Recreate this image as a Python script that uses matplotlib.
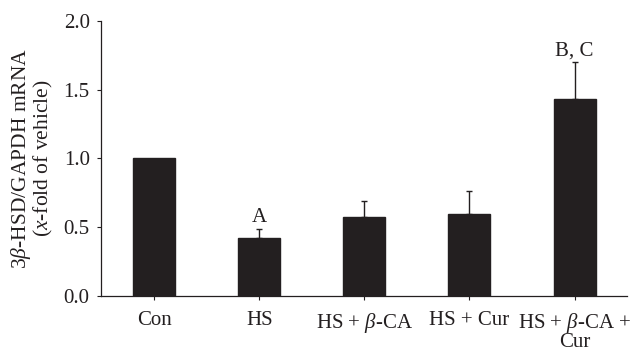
import matplotlib
matplotlib.use("Agg")
import matplotlib.pyplot as plt

plt.rcParams["font.family"] = ["Liberation Serif", "DejaVu Serif"]
plt.rcParams["mathtext.fontset"] = "custom"
plt.rcParams["mathtext.rm"] = "Liberation Serif"
plt.rcParams["mathtext.it"] = "Liberation Serif:italic"

groups = ["Con", "HS", "HS + $\\it{\\beta}$-CA", "HS + Cur", "HS + $\\it{\\beta}$-CA +\nCur"]
means = [1.0, 0.42, 0.575, 0.595, 1.43]
errors = [0.0, 0.07, 0.115, 0.165, 0.27]
letters = ["", "A", "", "", "B, C"]

ink = "#231f20"
fs = 15

fig = plt.figure(figsize=(6.34, 3.53), dpi=100)
ax = fig.add_axes([0.159, 0.1615, 0.83, 0.779])

x = list(range(len(groups)))
ax.bar(x, means, width=0.4, color=ink, edgecolor=ink, zorder=2)

# upper-only error bars, skip groups without spread
ex = [xi for xi, e in zip(x, errors) if e > 0]
em = [m for m, e in zip(means, errors) if e > 0]
ee = [e for e in errors if e > 0]
ax.errorbar(ex, em, yerr=[[0] * len(ee), ee], fmt="none",
            ecolor=ink, elinewidth=1.0, capsize=2, capthick=1.0, zorder=1)

for xi, m, e, s in zip(x, means, errors, letters):
    if s:
        ax.text(xi, m + e + 0.012, s, ha="center", va="bottom",
                fontsize=fs, color=ink)

ax.set_xlim(-0.51, 4.5)
ax.set_ylim(0, 2.0)
ax.set_yticks([0.0, 0.5, 1.0, 1.5, 2.0])
ax.set_yticklabels(["0.0", "0.5", "1.0", "1.5", "2.0"])
ax.set_xticks(x)
ax.set_xticklabels(groups, linespacing=0.82)
ax.tick_params(axis="both", labelsize=fs, colors=ink, direction="out", length=3, width=0.8)
ax.tick_params(axis="x", pad=8)
ax.tick_params(axis="y", pad=5)

ax.set_ylabel("3$\\it{\\beta}$-HSD/GAPDH mRNA\n($\\it{x}$-fold of vehicle)",
              fontsize=15.5, color=ink, linespacing=0.95, labelpad=6)

for side in ["top", "right"]:
    ax.spines[side].set_visible(False)
for side in ["left", "bottom"]:
    ax.spines[side].set_color(ink)
    ax.spines[side].set_linewidth(0.9)

fig.savefig("out.png", dpi=100)
